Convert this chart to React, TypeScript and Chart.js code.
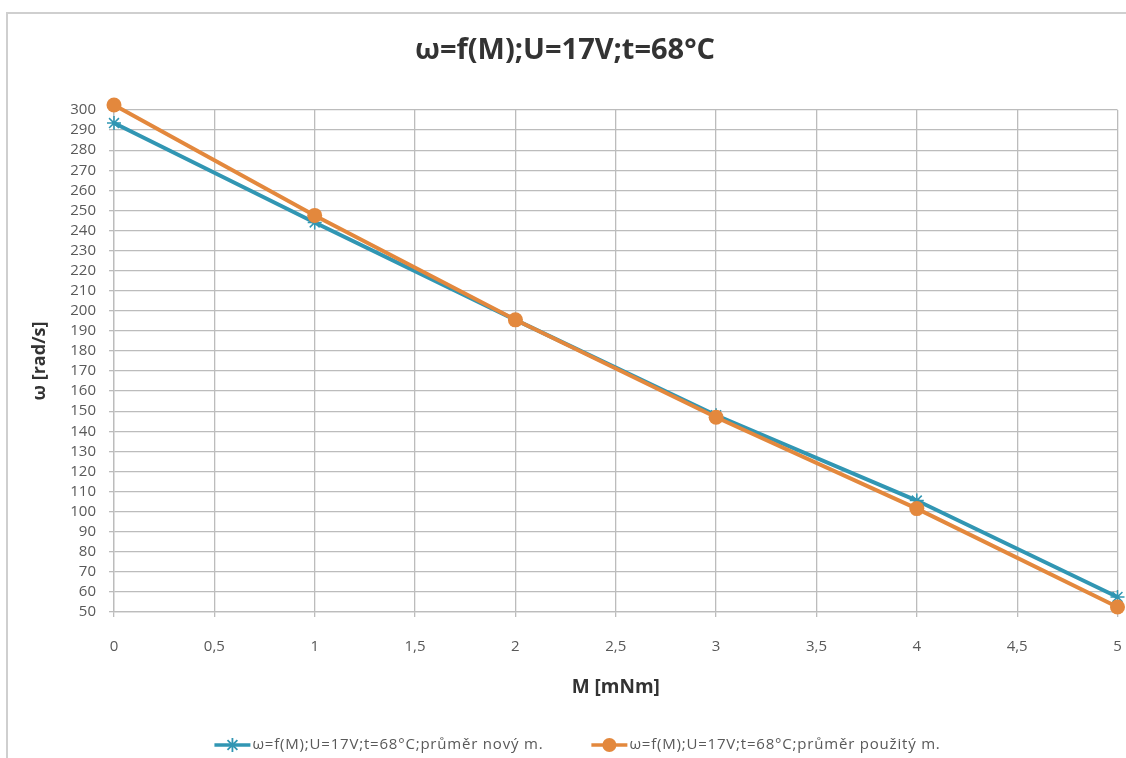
import React, { useEffect, useRef } from 'react';
import { Chart, registerables } from 'chart.js';

Chart.register(...registerables);

const torque = [0, 1, 2, 3, 4, 5];
const omegaNew = [293.5, 244, 195.5, 148, 105.5, 57.5];
const omegaUsed = [302.5, 247.5, 195.5, 147, 101.5, 52.5];
const seriesLabels = [
  'ω=f(M);U=17V;t=68°C;průměr nový m.',
  'ω=f(M);U=17V;t=68°C;průměr použitý m.',
];
const chartTitle = 'ω=f(M);U=17V;t=68°C';
const xTitle = 'M [mNm]';
const yTitle = 'ω [rad/s]';

const BLUE = '#3196b3';
const ORANGE = '#e3883d';
const FONT = '"Open Sans", sans-serif';

const lineLegend = {
  id: 'lineLegend',
  afterDraw(chart: any) {
    const ctx = chart.ctx as CanvasRenderingContext2D;
    ctx.save();
    ctx.font = `15px ${FONT}`;
    (ctx as any).letterSpacing = '0.8px';
    ctx.textBaseline = 'middle';
    ctx.textAlign = 'left';
    const items = chart.data.datasets.map((ds: any) => ({
      label: ds.label,
      color: ds.borderColor,
      style: ds.pointStyle,
    }));
    const sample = 36;
    const gapText = 2;
    const gapItem = 48;
    const widths = items.map((it: any) => sample + gapText + ctx.measureText(it.label).width);
    const total = widths.reduce((a: number, b: number) => a + b, 0) + gapItem * (items.length - 1);
    let x = 577.5 - total / 2;
    const y = 745;
    items.forEach((it: any, i: number) => {
      ctx.strokeStyle = it.color;
      ctx.lineWidth = 3.5;
      ctx.beginPath();
      ctx.moveTo(x, y);
      ctx.lineTo(x + sample, y);
      ctx.stroke();
      const cx = x + sample / 2;
      if (it.style === 'circle') {
        ctx.fillStyle = it.color;
        ctx.beginPath();
        ctx.arc(cx, y, 7, 0, Math.PI * 2);
        ctx.fill();
      } else {
        ctx.lineWidth = 1.8;
        const r = 7;
        ctx.beginPath();
        for (let k = 0; k < 4; k++) {
          const a = (k * Math.PI) / 4;
          ctx.moveTo(cx - r * Math.cos(a), y - r * Math.sin(a));
          ctx.lineTo(cx + r * Math.cos(a), y + r * Math.sin(a));
        }
        ctx.stroke();
      }
      ctx.fillStyle = '#595959';
      ctx.fillText(it.label, x + sample + gapText, y);
      x += widths[i] + gapItem;
    });
    ctx.restore();
  },
};

export default function App() {
  const canvasRef = useRef<HTMLCanvasElement | null>(null);

  useEffect(() => {
    document.body.style.margin = '0';
    const canvas = canvasRef.current;
    if (!canvas) return;
    const tickFont = { family: FONT, size: 15 };
    const gridColor = '#bcbcbc';
    const chart = new Chart(canvas, {
      type: 'line',
      data: {
        datasets: [
          {
            label: seriesLabels[0],
            data: torque.map((m, i) => ({ x: m, y: omegaNew[i] })),
            borderColor: BLUE,
            backgroundColor: BLUE,
            borderWidth: 4,
            pointStyle: 'star',
            pointRadius: 7,
            pointBorderWidth: 1.5,
            pointBorderColor: BLUE,
            order: 2,
            tension: 0,
            clip: false,
          },
          {
            label: seriesLabels[1],
            data: torque.map((m, i) => ({ x: m, y: omegaUsed[i] })),
            borderColor: ORANGE,
            backgroundColor: ORANGE,
            borderWidth: 4,
            pointStyle: 'circle',
            pointRadius: 7.5,
            pointBorderWidth: 0,
            order: 1,
            tension: 0,
            clip: false,
          },
        ],
      },
      options: {
        animation: false,
        responsive: false,
        maintainAspectRatio: false,
        layout: { padding: { left: 7, right: 3, top: 0, bottom: 46 } },
        plugins: {
          legend: { display: false },
          tooltip: { enabled: false },
          title: {
            display: true,
            text: chartTitle,
            color: '#333333',
            font: { family: FONT, size: 29, weight: 'bold' },
            padding: { top: 33.6, bottom: 41.6 },
          },
        },
        scales: {
          x: {
            type: 'linear',
            min: 0,
            max: 5,
            border: { color: gridColor, width: 1.3 },
            grid: { color: gridColor, lineWidth: 1.3, tickLength: 5, drawTicks: true },
            ticks: {
              stepSize: 0.5,
              color: '#595959',
              font: tickFont,
              padding: 21,
              maxRotation: 0,
              callback: (v: any) => String(v).replace('.', ','),
            },
            title: {
              display: true,
              text: xTitle,
              color: '#333333',
              font: { family: FONT, size: 19, weight: 'bold' },
              padding: { top: 0, bottom: 12.6 },
            },
            afterFit: (s: any) => {
              s.height = 100;
              s.paddingLeft = 0;
              s.paddingRight = 0;
            },
          },
          y: {
            type: 'linear',
            min: 50,
            max: 300,
            border: { color: gridColor, width: 1.3 },
            grid: { color: gridColor, lineWidth: 1.3, tickLength: 5, drawTicks: true },
            ticks: {
              stepSize: 10,
              color: '#595959',
              font: tickFont,
              padding: 13,
              autoSkip: false,
            },
            title: {
              display: true,
              text: yTitle,
              color: '#333333',
              font: { family: FONT, size: 18, weight: 'bold' },
              padding: { top: 22.2, bottom: 0 },
            },
            afterFit: (s: any) => {
              s.width = 107;
            },
          },
        },
      },
      plugins: [lineLegend],
    } as any);
    return () => chart.destroy();
  }, []);

  return (
    <div style={{ position: 'relative', width: 1126, height: 758, overflow: 'hidden', background: '#fff' }}>
      <div
        style={{
          position: 'absolute',
          left: 6,
          top: 12,
          width: 1200,
          height: 800,
          borderLeft: '2px solid #cfcfcf',
          borderTop: '2px solid #cfcfcf',
        }}
      />
      <canvas ref={canvasRef} width={1126} height={758} style={{ position: 'absolute', left: 0, top: 0, display: 'block' }} />
    </div>
  );
}
